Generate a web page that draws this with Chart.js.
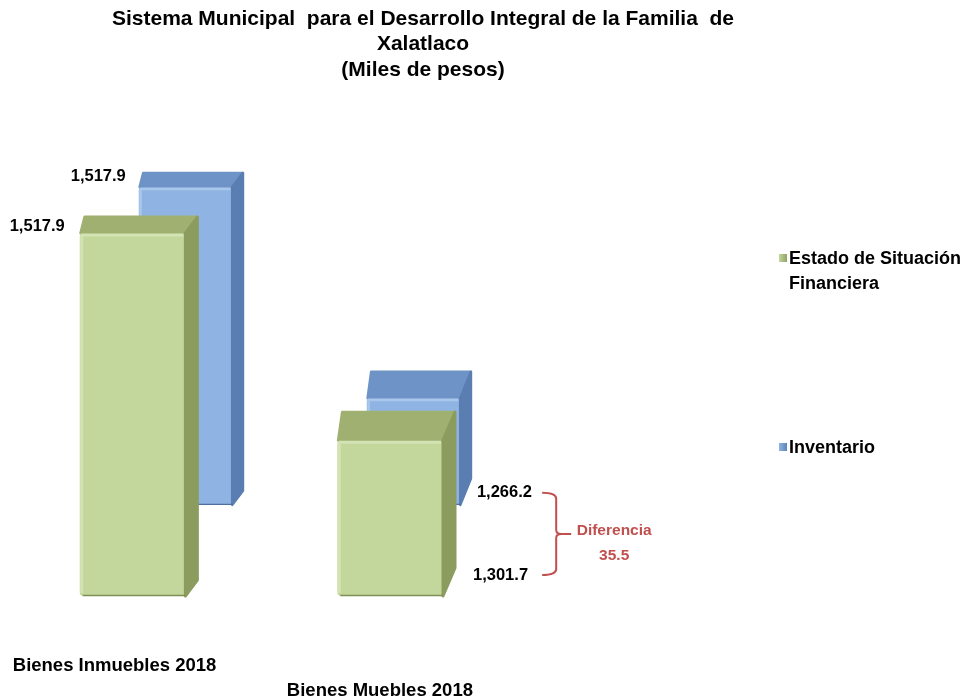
<!DOCTYPE html>
<html>
<head>
<meta charset="utf-8">
<script src="https://cdn.jsdelivr.net/npm/chart.js@4.4.1/dist/chart.umd.min.js"></script>
<style>
  html, body { margin: 0; padding: 0; background: #fff; }
  #wrap { width: 964px; height: 696px; position: relative; }
</style>
</head>
<body>
<div id="wrap"><canvas id="myChart" width="964" height="696"></canvas></div>
<script>
// datos
var categories = ['Bienes Inmuebles 2018', 'Bienes Muebles 2018'];
var estadoValues = [1517.9, 1301.7];
var inventarioValues = [1517.9, 1266.2];
var seriesNames = ['Estado de Situación Financiera', 'Inventario'];
var titleLines = ['Sistema Municipal  para el Desarrollo Integral de la Familia  de', 'Xalatlaco', '(Miles de pesos)'];

var Y_MIN = 1139;
var Y_MAX = 1636;

var FONT = "'Liberation Sans', Arial, sans-serif";
var DEPTH_X = 12;
var DEPTH_X_LEFT = 4;
// the back row (Inventario) is drawn with a small perspective shift
var BACK = { dx: 68.2, dy: -17, sx: 0.885, sy: 0.8755 };

var colors = [
    { front: '#c3d69b', light: '#d4e3b3', top: '#9fb070', side: '#8c9c5f', edge: '#7f8f55' },
    { front: '#8fb4e3', light: '#a9c6eb', top: '#6e93c6', side: '#5a7db2', edge: '#4f6fa0' }
];

function fmt(v) {
    var parts = v.toFixed(1).split('.');
    parts[0] = parts[0].replace(/\B(?=(\d{3})+(?!\d))/g, ',');
    return parts.join('.');
}

function tx(x) { return BACK.dx + BACK.sx * x; }
function ty(y) { return BACK.dy + BACK.sy * y; }

function drawFaces(ctx, p, c) {
    var left = p.x - p.width / 2, right = p.x + p.width / 2;
    var top = p.y, base = p.base;
    var d = 16 + (top - 233) * 0.058;
    ctx.save();
    ctx.lineJoin = 'round';
    ctx.lineWidth = 3;
    // top face
    ctx.beginPath();
    ctx.moveTo(left + 1, top);
    ctx.lineTo(left + 1 + DEPTH_X_LEFT, top - d);
    ctx.lineTo(right + DEPTH_X, top - d);
    ctx.lineTo(right, top);
    ctx.closePath();
    ctx.fillStyle = c.top;
    ctx.strokeStyle = c.top;
    ctx.fill();
    ctx.stroke();
    // side face
    ctx.beginPath();
    ctx.moveTo(right, top);
    ctx.lineTo(right + DEPTH_X, top - d);
    ctx.lineTo(right + DEPTH_X, base - d);
    ctx.lineTo(right, base);
    ctx.closePath();
    ctx.fillStyle = c.side;
    ctx.strokeStyle = c.side;
    ctx.fill();
    ctx.stroke();
    // soft highlight along the front top and left edges
    ctx.lineWidth = 3;
    ctx.strokeStyle = c.light;
    ctx.beginPath();
    ctx.moveTo(left + 2, base - 3);
    ctx.lineTo(left + 2, top + 2);
    ctx.lineTo(right - 2, top + 2);
    ctx.stroke();
    // darker line along the bottom edge
    ctx.lineWidth = 1.5;
    ctx.strokeStyle = c.edge;
    ctx.beginPath();
    ctx.moveTo(left + 3, base - 0.5);
    ctx.lineTo(right, base - 0.5);
    ctx.stroke();
    ctx.restore();
}

var box3d = {
    id: 'box3d',
    beforeDatasetDraw: function(chart, args) {
        if (args.index === 1) {
            var ctx = chart.ctx;
            ctx.save();
            ctx.translate(BACK.dx, BACK.dy);
            ctx.scale(BACK.sx, BACK.sy);
        }
    },
    afterDatasetDraw: function(chart, args) {
        var ctx = chart.ctx;
        args.meta.data.forEach(function(bar) {
            var p = bar.getProps(['x', 'y', 'base', 'width'], true);
            drawFaces(ctx, p, colors[args.index]);
        });
        if (args.index === 1) ctx.restore();
    }
};

var extras = {
    id: 'extras',
    afterDraw: function(chart) {
        var ctx = chart.ctx;
        var g = chart.getDatasetMeta(0).data;
        var b = chart.getDatasetMeta(1).data;
        ctx.save();

        // title
        ctx.fillStyle = '#000';
        ctx.textAlign = 'center';
        ctx.textBaseline = 'middle';
        ctx.font = 'bold 21px ' + FONT;
        titleLines.forEach(function(t, i) {
            ctx.fillText(t, 423, 19 + i * 25.5);
        });

        // value labels
        ctx.font = 'bold 16.5px ' + FONT;
        ctx.textAlign = 'right';
        ctx.fillText(fmt(estadoValues[0]), g[0].x - g[0].width / 2 - 15, g[0].y - 7);
        ctx.fillText(fmt(inventarioValues[0]), tx(b[0].x - b[0].width / 2) - 13, ty(b[0].y) - 11);
        ctx.textAlign = 'left';
        var yG = g[1].base - 21;
        var yB = ty(b[1].base) - 12;
        ctx.fillText(fmt(estadoValues[1]), g[1].x + g[1].width / 2 + DEPTH_X + 18, yG);
        ctx.fillText(fmt(inventarioValues[1]), tx(b[1].x + b[1].width / 2 + DEPTH_X) + 6, yB);

        // bracket with the difference
        var bx = g[1].x + 166;
        var mid = (yG + yB) / 2;
        ctx.strokeStyle = '#c0504d';
        ctx.lineWidth = 2;
        ctx.beginPath();
        ctx.moveTo(bx - 14, yB);
        ctx.quadraticCurveTo(bx, yB, bx, yB + 6);
        ctx.lineTo(bx, mid - 4);
        ctx.quadraticCurveTo(bx, mid, bx + 5, mid);
        ctx.lineTo(bx + 15, mid);
        ctx.moveTo(bx + 5, mid);
        ctx.quadraticCurveTo(bx, mid, bx, mid + 4);
        ctx.lineTo(bx, yG - 6);
        ctx.quadraticCurveTo(bx, yG, bx - 14, yG);
        ctx.stroke();
        ctx.fillStyle = '#c0504d';
        ctx.textAlign = 'center';
        ctx.font = 'bold 15.5px ' + FONT;
        ctx.fillText('Diferencia', bx + 58, mid - 3);
        ctx.fillText(fmt(estadoValues[1] - inventarioValues[1]), bx + 58, mid + 22);

        // legend
        var legY = [258, 447];
        ctx.textAlign = 'left';
        ctx.font = 'bold 18px ' + FONT;
        seriesNames.forEach(function(name, i) {
            var y = legY[i];
            var grad = ctx.createLinearGradient(779, 0, 788, 0);
            grad.addColorStop(0, colors[i].front);
            grad.addColorStop(1, colors[i].side);
            ctx.fillStyle = grad;
            ctx.fillRect(779, y - 4, 8, 8);
            ctx.fillStyle = '#000';
            if (i === 0) {
                ctx.fillText('Estado de Situación', 789, y + 1);
                ctx.fillText('Financiera', 789, y + 26);
            } else {
                ctx.fillText(name, 789, y + 1);
            }
        });
        ctx.restore();
    }
};

var ctx = document.getElementById('myChart').getContext('2d');
var myChart = new Chart(ctx, {
    type: 'bar',
    data: {
        labels: categories,
        datasets: [
            {
                label: seriesNames[0],
                data: estadoValues,
                base: Y_MIN,
                backgroundColor: colors[0].front,
                borderWidth: 0,
                borderRadius: 4,
                borderSkipped: false
            },
            {
                label: seriesNames[1],
                data: inventarioValues,
                base: Y_MIN,
                backgroundColor: colors[1].front,
                borderWidth: 0,
                borderRadius: 4,
                borderSkipped: false
            }
        ]
    },
    options: {
        responsive: false,
        animation: false,
        grouped: false,
        categoryPercentage: 1,
        barPercentage: 0.41,
        layout: {
            padding: { top: 120, left: 3.75, right: 445, bottom: 0 }
        },
        plugins: {
            legend: { display: false },
            tooltip: { enabled: false },
            title: { display: false }
        },
        scales: {
            x: {
                grid: { display: false },
                border: { display: false },
                afterFit: function(scale) {
                    scale.height = 100;
                    scale.paddingLeft = 0;
                    scale.paddingRight = 0;
                },
                ticks: {
                    color: '#000',
                    padding: 49,
                    font: { family: FONT, size: 18.5, weight: 'bold', lineHeight: 1.35 },
                    maxRotation: 0,
                    autoSkip: false,
                    callback: function(value, index) {
                        var label = this.getLabelForValue(value);
                        // labels sit a little left of their bars, the second one a row lower
                        return index % 2 ? ['', label + '    '] : [label + '       '];
                    }
                }
            },
            y: {
                display: false,
                min: Y_MIN,
                max: Y_MAX
            }
        }
    },
    plugins: [box3d, extras]
});
</script>
</body>
</html>
